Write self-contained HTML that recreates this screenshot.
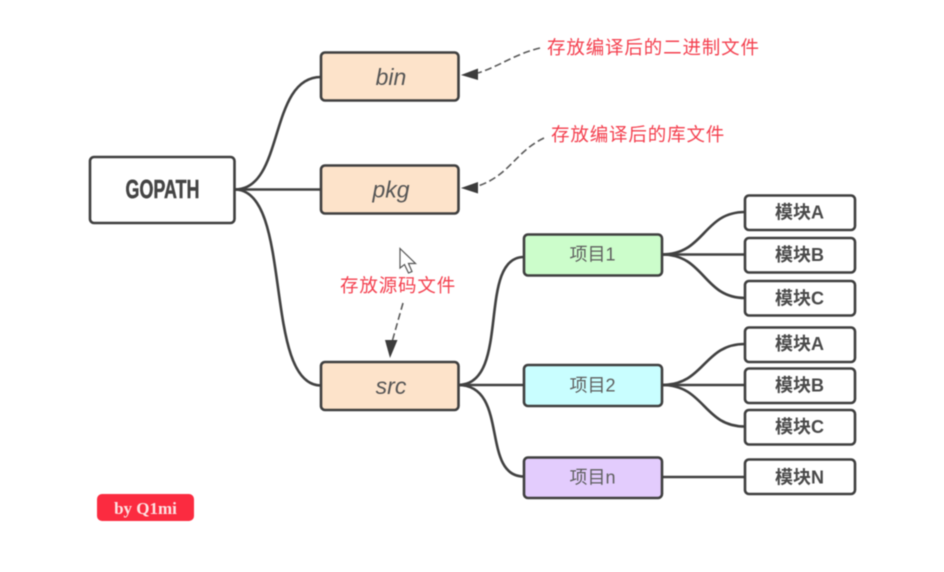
<!DOCTYPE html>
<html><head><meta charset="utf-8">
<style>
html,body{margin:0;padding:0;background:#fff;width:944px;height:572px;overflow:hidden}
svg{display:block;filter:blur(.4px)}
text{font-family:"Liberation Sans","Noto Sans CJK SC",sans-serif}
.b{stroke:#3f3f3f;stroke-width:2.6}
.c{fill:none;stroke:#414141;stroke-width:2.6}
.d{fill:none;stroke:#5a5a5a;stroke-width:1.6;stroke-dasharray:7 3.5}
.m{font-size:18px;font-weight:700;fill:#4a4a4a;text-anchor:middle}
.p{font-size:18px;fill:#5f5f5f;text-anchor:middle}
.i{font-size:23px;font-style:italic;fill:#555;text-anchor:middle}
.r{font-size:18.500px;letter-spacing:.85px;fill:#f4404f}
</style></head><body>
<svg width="944" height="572" viewBox="0 0 944 572" xmlns="http://www.w3.org/2000/svg">
<rect width="944" height="572" fill="#fff"/>
<path class="c" d="M235 189.500C285 189.500 268 77 321 77"/>
<path class="c" d="M235 189.500H321"/>
<path class="c" d="M235 189.500C294 189.500 262 385.500 321 385.500"/>
<path class="c" d="M458 385C512 385 476 257 524 257"/>
<path class="c" d="M458 385H524"/>
<path class="c" d="M458 385C510 385 480 476.500 524 476.500"/>
<path class="c" d="M662 254.500C705 254.500 703 212 745 212"/>
<path class="c" d="M662 254.500H745"/>
<path class="c" d="M662 254.500C705 254.500 703 298 745 298"/>
<path class="c" d="M662 385C705 385 703 344 745 344"/>
<path class="c" d="M662 385H745"/>
<path class="c" d="M662 385C705 385 703 426.500 745 426.500"/>
<path class="c" d="M662 477H745"/>
<rect class="b" x="90" y="157" width="144.500" height="66" rx="4" fill="#fff"/>
<rect class="b" x="321" y="52.500" width="137.500" height="48" rx="4" fill="#fde3ca"/>
<rect class="b" x="321" y="165.500" width="137.500" height="48" rx="4" fill="#fde3ca"/>
<rect class="b" x="321" y="362" width="137.500" height="48" rx="4" fill="#fde3ca"/>
<rect class="b" x="524" y="234.500" width="138" height="41" rx="4" fill="#ccfdcb"/>
<rect class="b" x="524" y="365" width="138" height="41" rx="4" fill="#c9feff"/>
<rect class="b" x="524" y="457.500" width="138" height="40.500" rx="4" fill="#e3ccfd"/>
<rect class="b" x="745" y="195.500" width="110" height="34.500" rx="4" fill="#fff"/>
<rect class="b" x="745" y="238" width="110" height="34.500" rx="4" fill="#fff"/>
<rect class="b" x="745" y="281" width="110" height="34.500" rx="4" fill="#fff"/>
<rect class="b" x="745" y="327.500" width="110" height="34.500" rx="4" fill="#fff"/>
<rect class="b" x="745" y="368.500" width="110" height="34.500" rx="4" fill="#fff"/>
<rect class="b" x="745" y="410" width="110" height="34.500" rx="4" fill="#fff"/>
<rect class="b" x="745" y="459.500" width="110" height="34.500" rx="4" fill="#fff"/>
<text x="162.500" y="198" font-size="26" font-weight="700" fill="#444" stroke="#444" stroke-width=".5" text-anchor="middle" textLength="74" lengthAdjust="spacingAndGlyphs">GOPATH</text>
<text class="i" x="391" y="85">bin</text>
<text class="i" x="391" y="197.500">pkg</text>
<text class="i" x="391" y="394">src</text>
<text class="p" x="592.500" y="260.500">项目1</text>
<text class="p" x="592.500" y="391.500">项目2</text>
<text class="p" x="592.500" y="483.500">项目n</text>
<text class="m" x="799.500" y="218.500">模块A</text>
<text class="m" x="799.500" y="261">模块B</text>
<text class="m" x="799.500" y="304.500">模块C</text>
<text class="m" x="799.500" y="350">模块A</text>
<text class="m" x="799.500" y="391.500">模块B</text>
<text class="m" x="799.500" y="433">模块C</text>
<text class="m" x="799.500" y="483.500">模块N</text>
<path class="d" d="M540 48C515 54 500 66 478 73"/>
<path d="M461 75L478 68.500V80Z" fill="#3c3c3c"/>
<path class="d" d="M544 138C515 152 510 175 478 186"/>
<path d="M461 188L478 182V193.500Z" fill="#3c3c3c"/>
<path class="d" d="M403 303L392 342"/>
<path d="M390 358L385 340H397.500Z" fill="#3c3c3c"/>
<text class="r" x="547" y="54">存放编译后的二进制文件</text>
<text class="r" x="551" y="141">存放编译后的库文件</text>
<text class="r" x="340" y="292">存放源码文件</text>
<path d="M400 248.500V268L404.500 264.500L408.500 273L412 271.500L408.500 263.500L415.500 263.500Z" fill="#fff" stroke="#555" stroke-width="1.200"/>
<rect x="97" y="494" width="97" height="27" rx="5" fill="#fb2b40"/>
<text x="145.500" y="514" font-size="17" font-weight="700" fill="#fde3e3" text-anchor="middle" style="font-family:'Liberation Serif',serif">by Q1mi</text>
</svg>
</body></html>
